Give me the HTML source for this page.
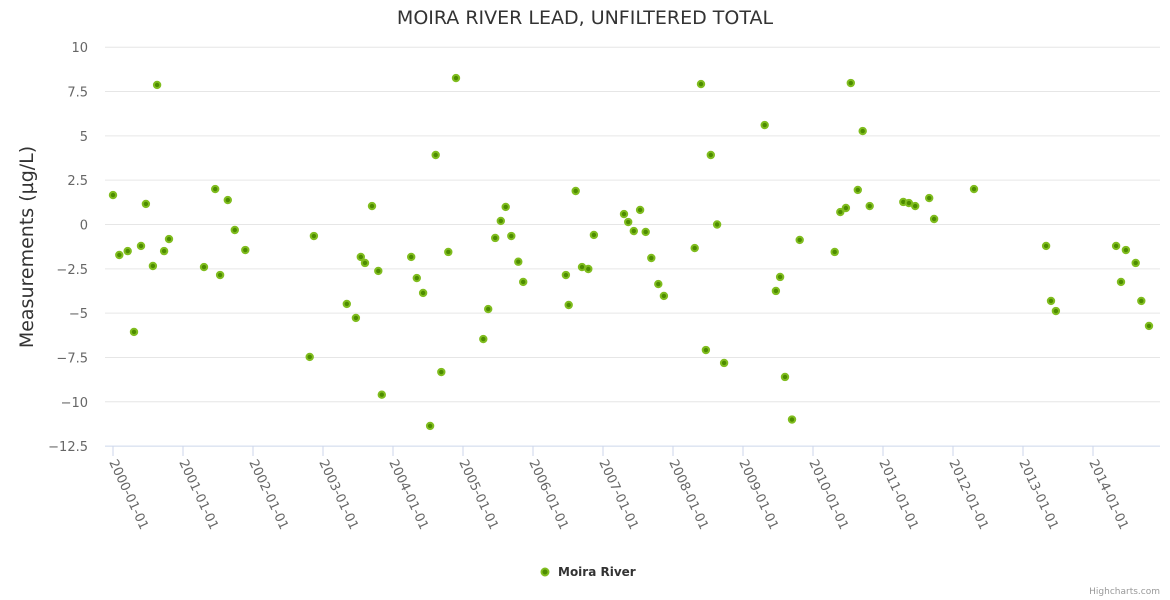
<!DOCTYPE html>
<html><head><meta charset="utf-8"><style>
html,body{margin:0;padding:0;background:#fff;}
svg{display:block;font-family:"DejaVu Sans","Liberation Sans",sans-serif;}
</style></head><body>
<svg id="chart" width="1170" height="600">
<text x="585" y="24" text-anchor="middle" font-size="19" fill="#333">MOIRA RIVER LEAD, UNFILTERED TOTAL</text>
<text transform="translate(33,247) rotate(-90)" text-anchor="middle" font-size="19" fill="#333">Measurements (µg/L)</text>
<g id="grid"></g><g id="yl"></g><g id="xl"></g><g id="pts"></g>
<g>
<circle cx="545" cy="572" r="3.5" fill="#4d8c00" stroke="#80bd1f" stroke-width="2"/>
<text x="558" y="576" font-size="12" font-weight="bold" fill="#333">Moira River</text></g>
<text x="1160" y="594" text-anchor="end" font-size="9" fill="#999">Highcharts.com</text>
</svg>
<script>
const years=[2000.0,2000.09,2000.21,2000.3,2000.4,2000.47,2000.57,2000.63,2000.73,2000.8,2001.3,2001.46,2001.53,2001.64,2001.74,2001.89,2002.81,2002.87,2003.34,2003.47,2003.54,2003.6,2003.7,2003.79,2003.84,2004.26,2004.34,2004.43,2004.53,2004.61,2004.69,2004.79,2004.9,2005.29,2005.36,2005.46,2005.54,2005.61,2005.69,2005.79,2005.86,2006.47,2006.51,2006.61,2006.7,2006.79,2006.87,2007.3,2007.36,2007.44,2007.53,2007.61,2007.69,2007.79,2007.87,2008.31,2008.4,2008.47,2008.54,2008.63,2008.73,2009.31,2009.47,2009.53,2009.6,2009.7,2009.81,2010.31,2010.39,2010.47,2010.54,2010.64,2010.71,2010.81,2011.29,2011.37,2011.46,2011.66,2011.73,2012.3,2013.33,2013.4,2013.47,2014.33,2014.4,2014.47,2014.61,2014.69,2014.8];
const values=[1.66,-1.72,-1.5,-6.06,-1.21,1.16,-2.34,7.87,-1.5,-0.82,-2.4,2.0,-2.85,1.38,-0.31,-1.44,-7.47,-0.65,-4.48,-5.27,-1.83,-2.17,1.04,-2.62,-9.6,-1.83,-3.02,-3.86,-11.36,3.92,-8.32,-1.55,8.26,-6.46,-4.77,-0.76,0.2,0.99,-0.65,-2.1,-3.24,-2.85,-4.54,1.89,-2.4,-2.51,-0.59,0.59,0.14,-0.37,0.82,-0.42,-1.89,-3.36,-4.03,-1.33,7.92,-7.08,3.92,0,-7.81,5.61,-3.75,-2.96,-8.6,-11.0,-0.87,-1.55,0.7,0.93,7.98,1.95,5.27,1.04,1.27,1.21,1.04,1.49,0.31,2.0,-1.21,-4.31,-4.88,-1.21,-3.24,-1.44,-2.17,-4.31,-5.72];
const yTicks=[10,7.5,5,2.5,0,-2.5,-5,-7.5,-10,-12.5];
const xTicks=[2000,2001,2002,2003,2004,2005,2006,2007,2008,2009,2010,2011,2012,2013,2014];
const NS="http://www.w3.org/2000/svg";
const X=v=>113+(v-2000)*70, Y=v=>224.5-v*17.73;
function mk(t,a,p){const e=document.createElementNS(NS,t);for(const k in a)e.setAttribute(k,a[k]);p.appendChild(e);return e;}
const grid=document.getElementById('grid'),yl=document.getElementById('yl'),xl=document.getElementById('xl'),pts=document.getElementById('pts');
yTicks.forEach(t=>{
 const l=mk('line',{x1:105,x2:1160,y1:Y(t),y2:Y(t),stroke:t===-12.5?'#ccd6eb':'#e6e6e6','stroke-width':1},grid);
 
 
 const tx=mk('text',{x:88,y:Y(t)+5,'text-anchor':'end','font-size':13,fill:'#666'},yl);
 tx.textContent=t<0?'−'+Math.abs(t):String(t);
 
 
});
xTicks.forEach(t=>{
 const x=X(t);
 const tk=mk('line',{x1:x,x2:x,y1:446,y2:456,stroke:'#ccd6eb'},grid);
 
 
 const tx=mk('text',{transform:`translate(${x-4},462) rotate(65)`,'font-size':13,fill:'#666'},xl);
 tx.textContent=t+'-01-01';
 
 
});
years.forEach((yr,i)=>{
 const c=mk('circle',{cx:X(yr),cy:Y(values[i]),r:3.2,fill:'#4d8c00',stroke:'#80bd1f','stroke-width':2},pts);
 
 
});
</script>
</body></html>
